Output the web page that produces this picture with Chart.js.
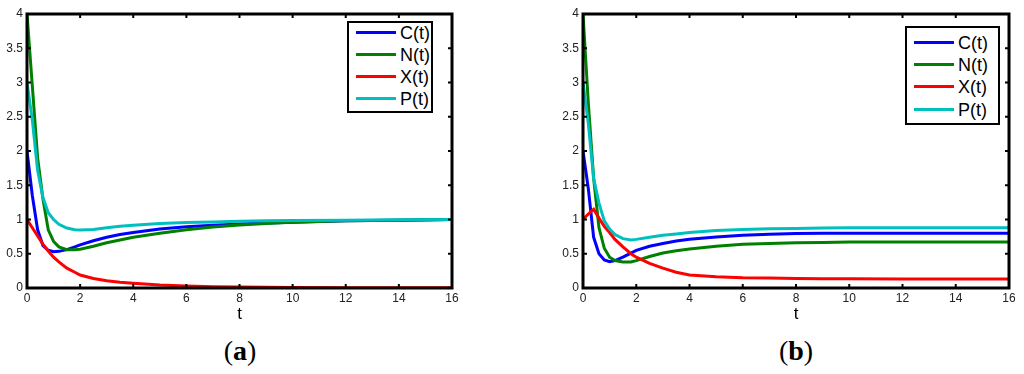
<!DOCTYPE html>
<html>
<head>
<meta charset="utf-8">
<script src="https://cdn.jsdelivr.net/npm/chart.js@4.4.0/dist/chart.umd.min.js"></script>
<style>
  body { margin: 0; background: #fff; width: 1024px; height: 374px; position: relative; overflow: hidden;
         font-family: "Liberation Sans", Arial, sans-serif; }
  .wrap { position: absolute; top: 0; height: 330px; }
  .legend { position: absolute; box-sizing: border-box; border: 2px solid #000; background: #fff; }
  .row { position: absolute; left: 0; height: 22px; width: 100%; }
  .row .ln { position: absolute; left: 7px; top: 9px; width: 40px; height: 3px; }
  .row .tx { position: absolute; left: 51px; top: 0; line-height: 22px; font-size: 18px; color: #000; }
  .cap { position: absolute; top: 333px; width: 80px; text-align: center; font-family: "Liberation Serif", serif;
         font-size: 28px; line-height: 36px; }
  .cap b { font-weight: bold; }
</style>
</head>
<body>
<div class="wrap" style="left:0;width:470px"><canvas id="chartA"></canvas></div>
<div class="wrap" style="left:556px;width:468px"><canvas id="chartB"></canvas></div>
<div class="legend" id="legA" style="left:347px;top:21px;width:86px;height:92px"></div>
<div class="legend" id="legB" style="left:905px;top:26px;width:95px;height:99px"></div>
<div class="cap" style="left:200px">(<b>a</b>)</div>
<div class="cap" style="left:756px">(<b>b</b>)</div>
<script>
// time samples (shared by both panels)
var tVals = [0, 0.2, 0.4, 0.6, 0.8, 1.0, 1.2, 1.5, 1.8, 2, 2.5, 3, 3.5, 4, 5, 6, 7, 8, 9, 10, 12, 14, 16];

// panel (a)
var cA = [2.0, 1.35, 0.85, 0.62, 0.55, 0.53, 0.535, 0.56, 0.6, 0.63, 0.69, 0.74, 0.78, 0.81, 0.86, 0.895, 0.915, 0.935, 0.95, 0.96, 0.98, 0.99, 1.0];
var nA = [4.0, 2.95, 1.9, 1.3, 0.85, 0.68, 0.6, 0.56, 0.56, 0.565, 0.61, 0.66, 0.70, 0.74, 0.80, 0.85, 0.89, 0.92, 0.94, 0.96, 0.98, 0.99, 1.0];
var xA = [1.0, 0.88, 0.76, 0.64, 0.54, 0.45, 0.38, 0.29, 0.23, 0.19, 0.14, 0.105, 0.085, 0.07, 0.045, 0.03, 0.02, 0.015, 0.01, 0.008, 0.005, 0.003, 0.002];
var pA = [3.0, 2.45, 1.72, 1.32, 1.1, 1.0, 0.93, 0.875, 0.85, 0.845, 0.855, 0.88, 0.9, 0.915, 0.94, 0.955, 0.965, 0.975, 0.98, 0.985, 0.99, 0.995, 1.0];

// panel (b)
var cB = [2.0, 1.45, 0.74, 0.5, 0.41, 0.385, 0.40, 0.45, 0.51, 0.55, 0.61, 0.65, 0.685, 0.71, 0.745, 0.77, 0.785, 0.795, 0.80, 0.80, 0.80, 0.80, 0.80];
var nB = [4.0, 2.7, 1.6, 0.88, 0.58, 0.45, 0.40, 0.38, 0.38, 0.40, 0.46, 0.51, 0.545, 0.57, 0.61, 0.64, 0.65, 0.66, 0.665, 0.67, 0.67, 0.67, 0.67];
var xB = [1.0, 1.08, 1.15, 1.02, 0.9, 0.81, 0.71, 0.6, 0.5, 0.45, 0.36, 0.29, 0.23, 0.19, 0.165, 0.15, 0.145, 0.14, 0.135, 0.135, 0.13, 0.13, 0.13];
var pB = [3.0, 2.4, 1.6, 1.24, 0.98, 0.86, 0.78, 0.72, 0.70, 0.71, 0.74, 0.77, 0.79, 0.81, 0.84, 0.855, 0.865, 0.87, 0.875, 0.878, 0.88, 0.88, 0.88];

var seriesNames = ["C(t)", "N(t)", "X(t)", "P(t)"];
var seriesColors = ["#0000ff", "#008000", "#ff0000", "#00bfbf"];
var xTicks = [0, 2, 4, 6, 8, 10, 12, 14, 16];
var yTicks = [0, 0.5, 1, 1.5, 2, 2.5, 3, 3.5, 4];

function pts(ys) {
  return ys.map(function (v, i) { return { x: tVals[i], y: v }; });
}

// matlab style frame with inward ticks
var framePlugin = {
  id: "frame",
  afterDatasetsDraw: function (chart) {
    var ctx = chart.ctx, a = chart.chartArea, xs = chart.scales.x, ys = chart.scales.y;
    ctx.save();
    ctx.strokeStyle = "#000";
    ctx.lineWidth = 2;
    ctx.beginPath();
    xTicks.forEach(function (v) {
      var px = xs.getPixelForValue(v);
      ctx.moveTo(px, a.bottom); ctx.lineTo(px, a.bottom - 4);
      ctx.moveTo(px, a.top); ctx.lineTo(px, a.top + 4);
    });
    yTicks.forEach(function (v) {
      var py = ys.getPixelForValue(v);
      ctx.moveTo(a.left, py); ctx.lineTo(a.left + 4, py);
      ctx.moveTo(a.right, py); ctx.lineTo(a.right - 4, py);
    });
    ctx.stroke();
    ctx.lineWidth = 3;
    ctx.strokeRect(a.left, a.top, a.right - a.left, a.bottom - a.top);
    ctx.restore();
  }
};

function makeChart(id, data, padRight) {
  var ctx = document.getElementById(id).getContext("2d");
  return new Chart(ctx, {
    type: "line",
    data: {
      datasets: data.map(function (ys, i) {
        return {
          label: seriesNames[i],
          data: pts(ys),
          borderColor: seriesColors[i],
          borderWidth: 3,
          pointRadius: 0,
          tension: 0,
          fill: false,
          order: 4 - i,
        };
      }),
    },
    options: {
      responsive: true,
      maintainAspectRatio: false,
      animation: false,
      layout: { padding: { top: 14, right: padRight, left: 0, bottom: 0 } },
      plugins: { legend: { display: false }, tooltip: { enabled: false } },
      scales: {
        x: {
          type: "linear",
          min: 0,
          max: 16,
          afterBuildTicks: function (s) { s.ticks = xTicks.map(function (v) { return { value: v }; }); },
          afterFit: function (s) { s.height = 42; },
          grid: { display: false, drawTicks: false },
          border: { display: false },
          ticks: { color: "#222", padding: 3, maxRotation: 0, autoSkip: false,
                   callback: function (v) { return String(v); },
                   font: { family: "Liberation Sans", size: 12 } },
          title: { display: true, text: "t", color: "#000", padding: { top: 0, bottom: 5 },
                   font: { family: "Liberation Sans", size: 17 } },
        },
        y: {
          min: 0,
          max: 4,
          afterBuildTicks: function (s) { s.ticks = yTicks.map(function (v) { return { value: v }; }); },
          afterFit: function (s) { s.width = 27; },
          grid: { display: false, drawTicks: false },
          border: { display: false },
          ticks: { color: "#222", padding: 4, autoSkip: false,
                   callback: function (v) { return String(v); },
                   font: { family: "Liberation Sans", size: 12 } },
        },
      },
    },
    plugins: [framePlugin],
  });
}

function makeLegend(id, rows) {
  var box = document.getElementById(id);
  seriesNames.forEach(function (name, i) {
    var r = document.createElement("div");
    r.className = "row";
    r.style.top = rows[i] + "px";
    r.innerHTML = '<span class="ln" style="background:' + seriesColors[i] + '"></span><span class="tx">' + name + "</span>";
    box.appendChild(r);
  });
}

makeChart("chartA", [cA, nA, xA, pA], 18);
makeChart("chartB", [cB, nB, xB, pB], 15);
makeLegend("legA", [-1, 21, 43, 65]);
makeLegend("legB", [4, 26, 48, 71]);
</script>
</body>
</html>
